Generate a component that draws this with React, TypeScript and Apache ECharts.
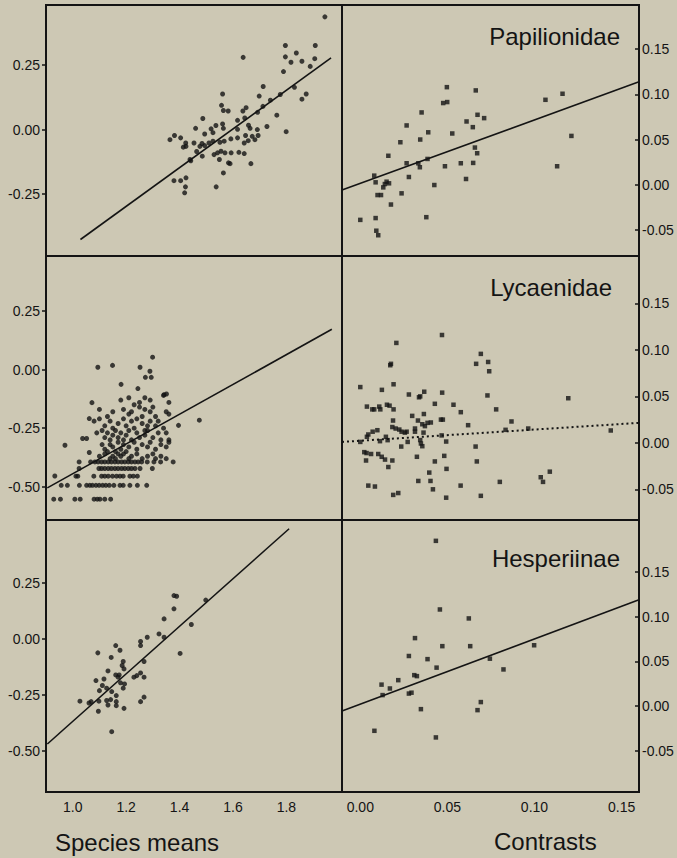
import React, { useEffect, useRef } from "react";
import * as echarts from "echarts";

// ---- Data ----
const panelTitles = ["Papilionidae", "Lycaenidae", "Hesperiinae"];
const leftXTicks = [1.0, 1.2, 1.4, 1.6, 1.8];
const rightXTicks = [0.0, 0.05, 0.1, 0.15];
const leftYTicks = [-0.5, -0.25, 0.0, 0.25];
const rightYTicks = [-0.05, 0.0, 0.05, 0.1, 0.15];

const papMeans: number[][] = [
  [1.944, 0.437], [1.796, 0.326], [1.908, 0.326], [1.796, 0.282], [1.638, 0.28], [1.837, 0.297],
  [1.817, 0.261], [1.858, 0.265], [1.906, 0.275], [1.889, 0.245], [1.789, 0.225], [1.83, 0.164],
  [1.874, 0.138], [1.858, 0.118], [1.777, 0.136], [1.713, 0.167], [1.698, 0.13], [1.74, 0.114],
  [1.712, 0.09], [1.764, 0.056], [1.799, -0.008], [1.727, 0.012], [1.561, 0.138], [1.557, 0.094],
  [1.564, 0.074], [1.582, 0.072], [1.649, 0.085], [1.637, 0.072], [1.692, 0.067], [1.644, 0.045],
  [1.617, 0.036], [1.561, 0.022], [1.564, 0.005], [1.536, 0.016], [1.487, 0.043], [1.46, 0.005],
  [1.518, 0.003], [1.525, -0.012], [1.494, -0.017], [1.617, 0.001], [1.658, 0.017], [1.664, 0.005],
  [1.647, -0.023], [1.672, -0.026], [1.694, -0.023], [1.691, 0.0], [1.682, -0.039], [1.657, -0.043],
  [1.642, -0.052], [1.617, -0.032], [1.592, -0.036], [1.567, -0.045], [1.551, -0.049], [1.525, -0.045],
  [1.484, -0.054], [1.494, -0.062], [1.476, -0.065], [1.454, -0.052], [1.464, -0.085], [1.485, -0.103],
  [1.542, -0.09], [1.555, -0.084], [1.57, -0.09], [1.593, -0.09], [1.622, -0.088], [1.642, -0.093],
  [1.549, -0.116], [1.583, -0.129], [1.589, -0.132], [1.667, -0.132], [1.564, -0.168], [1.537, -0.222],
  [1.439, -0.116], [1.442, -0.121], [1.423, -0.052], [1.424, -0.065], [1.414, -0.068], [1.404, -0.032],
  [1.381, -0.023], [1.364, -0.039], [1.379, -0.198], [1.404, -0.198], [1.424, -0.187], [1.422, -0.222],
  [1.419, -0.245], [1.529, -0.097], [1.51, -0.052],
];

const papContrasts: number[][] = [
  [0.0, -0.039], [0.0088, -0.037], [0.0092, -0.051], [0.0103, -0.056], [0.008, 0.01], [0.0088, 0.0026],
  [0.0099, -0.0115], [0.0119, -0.0115], [0.0132, -0.003], [0.0141, 0.0007], [0.0151, 0.0033], [0.0165, 0.0015],
  [0.0176, -0.022], [0.0161, 0.032], [0.023, 0.047], [0.0237, -0.0096], [0.0266, 0.0656], [0.0266, 0.0237],
  [0.0279, 0.0085], [0.0333, 0.0237], [0.0342, 0.0193], [0.0344, 0.05], [0.0352, 0.08], [0.039, 0.058],
  [0.0386, 0.0285], [0.0379, -0.036], [0.0425, -0.0004], [0.0476, 0.0904], [0.0499, 0.0915], [0.0497, 0.108],
  [0.0528, 0.0567], [0.0486, 0.0204], [0.0577, 0.0237], [0.0607, 0.0063], [0.061, 0.07], [0.0646, 0.0637],
  [0.0663, 0.1044], [0.0673, 0.0774], [0.0658, 0.0411], [0.0671, 0.0348], [0.0648, 0.0241], [0.0711, 0.0737],
  [0.1063, 0.094], [0.1161, 0.1007], [0.1212, 0.054], [0.113, 0.0204],
];

const lycMeans: number[][] = [
  [0.933, -0.454], [0.971, -0.323], [1.037, -0.294], [1.052, -0.294], [1.062, -0.354], [1.062, -0.209],
  [1.072, -0.141], [1.094, 0.01], [1.149, 0.018], [1.252, 0.01], [1.289, -0.007], [1.299, 0.053],
  [1.272, -0.033], [1.294, -0.033], [1.181, -0.063], [1.244, -0.081], [1.474, -0.216], [1.396, -0.238],
  [1.376, -0.394], [1.342, -0.107], [1.351, -0.104],
  [1.18, -0.13], [1.21, -0.12], [1.23, -0.15], [1.25, -0.14], [1.27, -0.12], [1.29, -0.13], [1.34, -0.11],
  [1.36, -0.14], [1.27, -0.17],
  [1.1, -0.17], [1.15, -0.18], [1.19, -0.17], [1.21, -0.19], [1.22, -0.18], [1.25, -0.16], [1.26, -0.2],
  [1.29, -0.18], [1.3, -0.16], [1.35, -0.18], [1.36, -0.19], [1.31, -0.2],
  [1.08, -0.22], [1.1, -0.21], [1.12, -0.24], [1.14, -0.22], [1.15, -0.25], [1.17, -0.23], [1.19, -0.21],
  [1.2, -0.24], [1.22, -0.22], [1.23, -0.25], [1.24, -0.21], [1.26, -0.23], [1.28, -0.24], [1.29, -0.22],
  [1.31, -0.24], [1.32, -0.22], [1.34, -0.25], [1.13, -0.2], [1.27, -0.26],
  [1.09, -0.27], [1.11, -0.26], [1.12, -0.29], [1.13, -0.27], [1.15, -0.28], [1.16, -0.26], [1.17, -0.29],
  [1.18, -0.27], [1.2, -0.28], [1.21, -0.26], [1.22, -0.3], [1.24, -0.27], [1.25, -0.29], [1.27, -0.28],
  [1.28, -0.26], [1.3, -0.29], [1.32, -0.27], [1.33, -0.3], [1.35, -0.27], [1.36, -0.3], [1.14, -0.3],
  [1.19, -0.3],
  [1.11, -0.32], [1.12, -0.34], [1.14, -0.32], [1.15, -0.33], [1.16, -0.35], [1.17, -0.31], [1.18, -0.34],
  [1.19, -0.32], [1.2, -0.35], [1.21, -0.33], [1.23, -0.31], [1.24, -0.34], [1.26, -0.32], [1.28, -0.33],
  [1.29, -0.31], [1.31, -0.34], [1.33, -0.32], [1.35, -0.33], [1.36, -0.31], [1.13, -0.35], [1.17, -0.36],
  [1.1, -0.37], [1.12, -0.36], [1.14, -0.38], [1.15, -0.37], [1.16, -0.38], [1.18, -0.37], [1.19, -0.36],
  [1.21, -0.38], [1.22, -0.37], [1.24, -0.36], [1.26, -0.38], [1.28, -0.37], [1.3, -0.36], [1.31, -0.38],
  [1.33, -0.37], [1.35, -0.38],
  [1.024, -0.394], [1.067, -0.394], [1.083, -0.394], [1.095, -0.394], [1.108, -0.394], [1.12, -0.394],
  [1.133, -0.394], [1.145, -0.394], [1.158, -0.394], [1.17, -0.394], [1.183, -0.394], [1.195, -0.394],
  [1.208, -0.394], [1.22, -0.394], [1.233, -0.394], [1.245, -0.394], [1.258, -0.394], [1.279, -0.394],
  [1.304, -0.394], [1.329, -0.394],
  [1.024, -0.422], [1.098, -0.422], [1.108, -0.422], [1.12, -0.422], [1.133, -0.422], [1.145, -0.422],
  [1.158, -0.422], [1.17, -0.422], [1.183, -0.422], [1.195, -0.422], [1.208, -0.422], [1.22, -0.422],
  [1.233, -0.422], [1.252, -0.422], [1.298, -0.422],
  [1.012, -0.455], [1.019, -0.455], [1.079, -0.455], [1.108, -0.455], [1.12, -0.455], [1.133, -0.455],
  [1.149, -0.455], [1.164, -0.455], [1.177, -0.455], [1.189, -0.455], [1.214, -0.455], [1.227, -0.455],
  [1.242, -0.455],
  [0.957, -0.494], [0.98, -0.494], [1.025, -0.494], [1.052, -0.494], [1.064, -0.494], [1.074, -0.494],
  [1.087, -0.494], [1.099, -0.494], [1.112, -0.494], [1.124, -0.494], [1.137, -0.494], [1.154, -0.494],
  [1.177, -0.494], [1.189, -0.494], [1.214, -0.494], [1.242, -0.494], [1.277, -0.494],
  [0.929, -0.553], [0.954, -0.553], [1.008, -0.553], [1.028, -0.553], [1.08, -0.553], [1.092, -0.553],
  [1.102, -0.553], [1.12, -0.553], [1.142, -0.553],
];

const lycContrasts: number[][] = [
  [0.0, 0.06], [0.0038, 0.039], [0.0069, 0.036], [0.008, 0.036], [0.0109, 0.039], [0.0115, 0.036],
  [0.0153, 0.041], [0.0168, 0.04], [0.0191, 0.036], [0.0124, 0.057], [0.0172, 0.0835], [0.0176, 0.085],
  [0.0207, 0.1075], [0.0191, 0.063], [0.0, 0.001], [0.0038, 0.0065], [0.0046, 0.009], [0.0071, 0.012],
  [0.0098, 0.0136], [0.0113, 0.0018], [0.0147, 0.0065], [0.0157, 0.0029], [0.0188, 0.024], [0.0184, 0.017],
  [0.0203, 0.0154], [0.0224, 0.0143], [0.0237, 0.012], [0.0256, 0.011], [0.0272, 0.001], [0.0266, 0.012],
  [0.0235, -0.004], [0.0279, 0.052], [0.0298, 0.029], [0.0314, 0.0154], [0.0314, 0.012], [0.0331, 0.024],
  [0.0337, 0.049], [0.0344, 0.05], [0.0367, 0.055], [0.0365, 0.031], [0.0356, 0.02], [0.0371, 0.018],
  [0.0386, 0.0215], [0.0405, 0.0219], [0.0344, 0.003], [0.0348, -0.0007], [0.0356, -0.0036], [0.0363, 0.011],
  [0.0428, 0.042], [0.0469, 0.116], [0.047, 0.054], [0.0463, 0.025], [0.0474, 0.025], [0.0467, 0.008],
  [0.0493, 0.0014], [0.0535, 0.041], [0.0577, 0.033], [0.0619, 0.019], [0.0665, 0.085], [0.0692, 0.0957],
  [0.0734, 0.087], [0.074, 0.077], [0.073, 0.051], [0.078, 0.036], [0.0834, 0.014], [0.0868, 0.023],
  [0.0964, 0.0154], [0.1194, 0.048], [0.1438, 0.0133], [0.0662, -0.004], [0.0669, -0.02], [0.0023, -0.01],
  [0.0036, -0.011], [0.0062, -0.012], [0.0033, -0.019], [0.0103, -0.012], [0.0123, -0.015], [0.0142, -0.018],
  [0.0161, -0.026], [0.0184, -0.019], [0.0325, -0.015], [0.0428, -0.02], [0.0482, -0.014], [0.0495, -0.028],
  [0.0396, -0.032], [0.0333, -0.041], [0.0403, -0.041], [0.0417, -0.05], [0.0046, -0.046], [0.0084, -0.047],
  [0.0189, -0.056], [0.0218, -0.054], [0.0493, -0.059], [0.0576, -0.046], [0.0692, -0.057], [0.0801, -0.042],
  [0.1036, -0.037], [0.1049, -0.042], [0.1088, -0.031],
];

const hesMeans: number[][] = [
  [1.027, -0.278], [1.061, -0.286], [1.069, -0.28], [1.096, -0.323], [1.098, -0.278], [1.087, -0.186],
  [1.094, -0.0625], [1.1, -0.231], [1.111, -0.208], [1.117, -0.179], [1.127, -0.22], [1.132, -0.143],
  [1.127, -0.275], [1.132, -0.295], [1.142, -0.271], [1.144, -0.083], [1.146, -0.235], [1.146, -0.414],
  [1.161, -0.03], [1.161, -0.161], [1.163, -0.253], [1.163, -0.28], [1.163, -0.298], [1.17, -0.171],
  [1.174, -0.161], [1.177, -0.051], [1.179, -0.196], [1.185, -0.119], [1.189, -0.101], [1.192, -0.134],
  [1.189, -0.22], [1.192, -0.31], [1.194, -0.201], [1.229, -0.171], [1.24, -0.164], [1.254, -0.152],
  [1.254, -0.012], [1.254, -0.03], [1.254, -0.28], [1.267, -0.101], [1.267, -0.171], [1.267, -0.26],
  [1.279, 0.007], [1.323, 0.022], [1.342, 0.007], [1.342, 0.089], [1.379, 0.134], [1.379, 0.193],
  [1.389, 0.19], [1.402, -0.065], [1.444, 0.064], [1.498, 0.173],
];

const hesContrasts: number[][] = [
  [0.0434, 0.1847], [0.0457, 0.108], [0.0623, 0.098], [0.0314, 0.076], [0.0471, 0.067], [0.0631, 0.067],
  [0.0998, 0.068], [0.0279, 0.056], [0.0386, 0.0525], [0.0744, 0.053], [0.0438, 0.043], [0.0822, 0.041],
  [0.031, 0.0346], [0.0325, 0.0335], [0.0122, 0.024], [0.0218, 0.029], [0.017, 0.0197], [0.0128, 0.0123],
  [0.0279, 0.014], [0.0294, 0.015], [0.0348, -0.0034], [0.0692, 0.0045], [0.0673, -0.0045], [0.0081, -0.0276],
  [0.0434, -0.035],
];

// Fitted lines (end points)
const papMeansFit = [[1.029, -0.426], [1.967, 0.278]];
const lycMeansFit = [[0.905, -0.505], [1.97, 0.172]];
const hesMeansFit = [[0.905, -0.469], [1.81, 0.491]];
const papContrastsFit = [[-0.0105, -0.006], [0.16, 0.114]];
const lycContrastsFit = [[-0.0105, 0.001], [0.16, 0.0215]];
const hesContrastsFit = [[-0.0105, -0.0056], [0.16, 0.119]];

// ---- Layout ----
const BG = "#cdc8b4";
const INK = "#141414";
const FONT = '"Liberation Sans", Arial, sans-serif';
const rows = [
  { top: 5, height: 251 },
  { top: 256, height: 264 },
  { top: 520, height: 272 },
];
const cols = [
  { left: 46, width: 296 },
  { left: 342, width: 297 },
];
const leftXRange = [0.9, 2.008];
const rightXRange = [-0.0105, 0.16];
const leftYRanges = [[-0.49, 0.483], [-0.642, 0.485], [-0.683, 0.53]];
const rightYRanges = [[-0.079, 0.199], [-0.083, 0.201], [-0.096, 0.208]];

export default function App() {
  const ref = useRef<HTMLDivElement>(null);
  useEffect(() => {
    if (!ref.current) return;
    const chart = echarts.init(ref.current, undefined, { renderer: "svg" });
    const grids: any[] = [];
    const xAxes: any[] = [];
    const yAxes: any[] = [];
    const series: any[] = [];
    const scatterData = [
      [papMeans, papContrasts],
      [lycMeans, lycContrasts],
      [hesMeans, hesContrasts],
    ];
    const fits = [
      [papMeansFit, papContrastsFit],
      [lycMeansFit, lycContrastsFit],
      [hesMeansFit, hesContrastsFit],
    ];
    let idx = 0;
    for (let r = 0; r < 3; r++) {
      for (let c = 0; c < 2; c++) {
        grids.push({
          left: cols[c].left,
          width: cols[c].width,
          top: rows[r].top,
          height: rows[r].height,
          show: true,
          borderColor: INK,
          borderWidth: 2,
          backgroundColor: "transparent",
        });
        const isBottom = r === 2;
        const xr = c === 0 ? leftXRange : rightXRange;
        xAxes.push({
          type: "value",
          gridIndex: idx,
          position: "bottom",
          min: xr[0],
          max: xr[1],
          splitLine: { show: false },
          axisLine: { show: false, onZero: false },
          axisTick: { show: false },
          axisLabel: {
            show: isBottom,
            customValues: c === 0 ? leftXTicks : rightXTicks,
            formatter: (v: number) => (c === 0 ? v.toFixed(1) : v.toFixed(2)),
            fontFamily: FONT,
            fontSize: 14,
            color: INK,
            margin: 8,
          },
        });
        const yr = c === 0 ? leftYRanges[r] : rightYRanges[r];
        const yt = c === 0 ? leftYTicks : rightYTicks;
        yAxes.push({
          type: "value",
          gridIndex: idx,
          position: c === 0 ? "left" : "right",
          min: yr[0],
          max: yr[1],
          splitLine: { show: false },
          axisLine: { show: true, onZero: false, lineStyle: { color: INK, width: 2 } },
          axisTick: {
            show: true,
            inside: c === 1,
            length: 4,
            customValues: yt,
            lineStyle: { color: INK, width: 1.5 },
          },
          axisLabel: {
            show: true,
            customValues: yt,
            formatter: (v: number) => v.toFixed(2),
            fontFamily: FONT,
            fontSize: 14,
            color: INK,
            margin: c === 0 ? 6 : 3,
          },
        });
        series.push({
          type: "scatter",
          xAxisIndex: idx,
          yAxisIndex: idx,
          data: scatterData[r][c],
          symbol: c === 0 ? "circle" : "rect",
          symbolSize: c === 0 ? 5 : 4.5,
          itemStyle: { color: INK },
          silent: true,
        });
        series.push({
          type: "line",
          xAxisIndex: idx,
          yAxisIndex: idx,
          data: fits[r][c],
          symbol: "none",
          clip: true,
          lineStyle: {
            color: INK,
            width: r === 1 && c === 1 ? 2 : 1.6,
            type: r === 1 && c === 1 ? [2, 3] : "solid",
          },
          silent: true,
        });
        idx++;
      }
    }
    const titleY = [36, 287, 558];
    const titleX = [620, 612, 620];
    const graphics: any[] = panelTitles.map((t, i) => ({
      type: "text",
      x: titleX[i],
      y: titleY[i],
      style: {
        text: t,
        font: `24px ${FONT}`,
        fill: INK,
        align: "right",
        verticalAlign: "middle",
      },
    }));
    graphics.push({
      type: "text",
      x: 55,
      y: 842,
      style: { text: "Species means", font: `24px ${FONT}`, fill: INK, align: "left", verticalAlign: "middle" },
    });
    graphics.push({
      type: "text",
      x: 494,
      y: 841,
      style: { text: "Contrasts", font: `24px ${FONT}`, fill: INK, align: "left", verticalAlign: "middle" },
    });
    chart.setOption({
      animation: false,
      backgroundColor: BG,
      grid: grids,
      xAxis: xAxes,
      yAxis: yAxes,
      series,
      graphic: graphics,
    });
    return () => chart.dispose();
  }, []);
  return (
    <div
      ref={ref}
      style={{ position: "fixed", left: 0, top: 0, width: 677, height: 858, background: BG }}
    />
  );
}
